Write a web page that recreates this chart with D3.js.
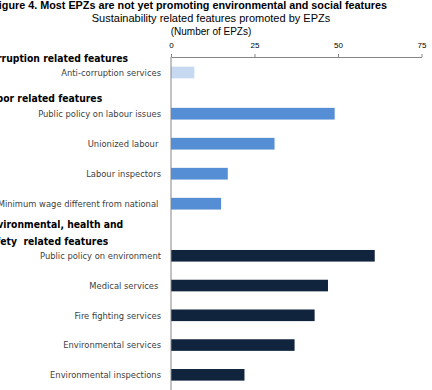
<!DOCTYPE html>
<html>
<head>
<meta charset="utf-8">
<script src="https://cdn.jsdelivr.net/npm/d3@7"></script>
<style>
  body { margin: 0; background: #fff; }
  svg { display: block; }
  text { white-space: pre; }
</style>
</head>
<body>
<svg id="chart" width="432" height="390"></svg>
<script>
var groupHeaders = [
  ["Anti-corruption related features"],
  ["Labor related features"],
  ["Environmental, health and", "safety  related features"]
];
var corruptionItems = ["Anti-corruption services"];
var corruptionValues = [7];
var laborItems = ["Public policy on labour issues", "Unionized labour ", "Labour inspectors", "Minimum wage different from national "];
var laborValues = [49, 31, 17, 15];
var envItems = ["Public policy on environment", "Medical services ", "Fire fighting services", "Environmental services", "Environmental inspections"];
var envValues = [61, 47, 43, 37, 22];
var xTicks = [0, 25, 50, 75];

var groupColors = ["#c6d9f1", "#558ed5", "#10243e"];
var groupRanges = [[57.5, 87.5], [98.7, 218.7], [240.9, 389.7]];
var headerY = [[61.7], [101.7], [228, 245]];

var svg = d3.select("#chart");
var labelFont = "'DejaVu Sans Condensed', 'Liberation Sans Narrow', sans-serif";
var plainFont = "'Liberation Sans', Arial, sans-serif";

var x = d3.scaleLinear().domain([0, 75]).range([171, 421.5]);

// titles
svg.append("text")
  .attr("x", 387).attr("y", 9)
  .attr("text-anchor", "end")
  .attr("font-family", plainFont)
  .attr("font-weight", "bold")
  .attr("font-size", "10.8px")
  .attr("fill", "#000")
  .text("Figure 4. Most EPZs are not yet promoting environmental and social features");

svg.append("text")
  .attr("x", 211).attr("y", 22)
  .attr("text-anchor", "middle")
  .attr("font-family", plainFont)
  .attr("font-size", "11px")
  .attr("fill", "#000")
  .text("Sustainability related features promoted by EPZs");

svg.append("text")
  .attr("x", 211).attr("y", 35)
  .attr("text-anchor", "middle")
  .attr("font-family", plainFont)
  .attr("font-size", "10px")
  .attr("fill", "#000")
  .text("(Number of EPZs)");

// top axis
var axis = svg.append("g")
  .attr("transform", "translate(0,57)")
  .call(d3.axisTop(x).tickValues(xTicks).tickSize(3).tickSizeOuter(0));
axis.select(".domain").attr("stroke", "#868686");
axis.selectAll(".tick line").attr("stroke", "#868686");
axis.selectAll(".tick text")
  .attr("font-family", plainFont)
  .attr("font-size", "8px")
  .attr("fill", "#000")
  .attr("y", -9)
  .attr("dy", "0");

var groups = [
  { items: corruptionItems, values: corruptionValues },
  { items: laborItems, values: laborValues },
  { items: envItems, values: envValues }
];

groups.forEach(function (g, gi) {
  var y = d3.scaleBand().domain(g.items).range(groupRanges[gi])
    .paddingInner(0.61).paddingOuter(0.305);
  var rows = g.items.map(function (d, i) {
    return { name: d, value: g.values[i] };
  });

  svg.selectAll(".bar" + gi)
    .data(rows)
    .enter()
    .append("rect")
    .attr("x", x(0))
    .attr("y", function (d) { return y(d.name); })
    .attr("width", function (d) { return x(d.value) - x(0); })
    .attr("height", y.bandwidth())
    .attr("fill", groupColors[gi]);

  svg.selectAll(".lab" + gi)
    .data(rows)
    .enter()
    .append("text")
    .attr("x", 161)
    .attr("y", function (d) { return y(d.name) + y.bandwidth() / 2; })
    .attr("dy", "0.35em")
    .attr("text-anchor", "end")
    .attr("font-family", labelFont)
    .attr("font-size", "9.3px")
    .attr("fill", "#404040")
    .text(function (d) { return d.name; });

  groupHeaders[gi].forEach(function (line, li) {
    var t = svg.append("text")
      .attr("y", headerY[gi][li])
      .attr("font-family", labelFont)
      .attr("font-weight", "bold")
      .attr("font-size", "10.3px")
      .attr("fill", "#000")
      .text(line);
    if (gi === 0) {
      t.attr("x", 128).attr("text-anchor", "end");
    } else {
      t.attr("x", -15.6);
    }
  });
});

// vertical axis line
svg.append("line")
  .attr("x1", x(0)).attr("x2", x(0))
  .attr("y1", 57).attr("y2", 390)
  .attr("stroke", "#868686");
</script>
</body>
</html>
